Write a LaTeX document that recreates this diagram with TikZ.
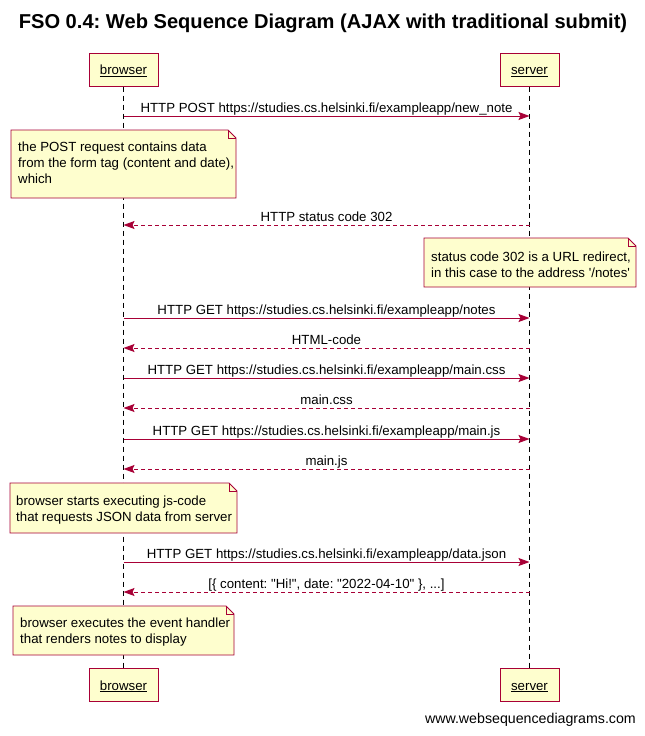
\documentclass[tikz,border=0pt]{standalone}
\usepackage{fontspec}
\setmainfont{Liberation Sans}
\frenchspacing
\usetikzlibrary{arrows.meta}
\definecolor{umlred}{HTML}{A80036}
\definecolor{umlfill}{HTML}{FEFECE}
\tikzset{
  actorbox/.style={draw=umlred, fill=umlfill, line width=1pt, minimum height=33pt,
    inner sep=0pt, text height=10pt, text depth=0pt, font=\fontsize{13.25}{16}\selectfont},
  lifeline/.style={draw=black, dash pattern=on 5pt off 4pt, line width=0.9pt},
  msg/.style={draw=umlred, line width=0.9pt, -{Stealth[length=11pt,width=8pt,inset=2pt]}},
  reply/.style={msg, dash pattern=on 4pt off 3pt},
  msglabel/.style={anchor=base, inner sep=0pt, font=\fontsize{13.25}{16}\selectfont},
  notebody/.style={draw=umlred, fill=umlfill, line width=0.9pt},
  notetext/.style={anchor=north west, inner sep=0pt, align=left,
    font=\fontsize{13.25}{16}\selectfont},
}
% note with a folded top-right corner: x1, y1, x2, y2
\newcommand\foldnote[4]{%
  \filldraw[notebody] (#1,#2) -- (#3-8,#2) -- (#3,#2+8) -- (#3,#4) -- (#1,#4) -- cycle;
  \draw[notebody, fill=none] (#3-8,#2) -- (#3-8,#2+8) -- (#3,#2+8);}
\begin{document}
\begin{tikzpicture}[x=1pt, y=-1pt]
\useasboundingbox[fill=white] (0,0) rectangle (645,736);

\node[font=\bfseries\fontsize{20.1}{22}\selectfont] (title) at (323,23)
  {FSO 0.4: Web Sequence Diagram (AJAX with traditional submit)};

% participants
\node[actorbox, minimum width=69pt] (browser)  at (123.5,69.5) {\underline{browser}};
\node[actorbox, minimum width=59pt] (server)   at (529.5,69.5) {\underline{server}};
\node[actorbox, minimum width=69pt] (browserB) at (123.5,685) {\underline{browser}};
\node[actorbox, minimum width=59pt] (serverB)  at (529.5,685) {\underline{server}};

\draw[lifeline] (browser.south) -- (browserB.north);
\draw[lifeline] (server.south) -- (serverB.north);

% message end points on the lifelines
\foreach \i/\y in {1/116, 2/225, 3/318, 4/348, 5/378, 6/408, 7/439, 8/469, 9/562, 10/592} {
  \coordinate (b\i) at (123.5,\y);
  \coordinate (s\i) at (529.5,\y);
}

\draw[msg] (b1) -- (s1) node[msglabel, pos=0.5, yshift=4pt]
  {HTTP POST https://studies.cs.helsinki.fi/exampleapp/new\_note};

\foldnote{11}{130}{236}{198}
\node[notetext] (note1) at (18,142) {the POST request contains data\\from the form tag (content and date),\\which};

\draw[reply] (s2) -- (b2) node[msglabel, pos=0.5, yshift=4pt] {HTTP status code 302};

\foldnote{424}{238}{636}{287}
\node[notetext] (note2) at (431,252) {status code 302 is a URL redirect,\\in this case to the address \textquotesingle/notes\textquotesingle};

\draw[msg] (b3) -- (s3) node[msglabel, pos=0.5, yshift=4pt]
  {HTTP GET https://studies.cs.helsinki.fi/exampleapp/notes};
\draw[reply] (s4) -- (b4) node[msglabel, pos=0.5, yshift=4pt] {HTML-code};
\draw[msg] (b5) -- (s5) node[msglabel, pos=0.5, yshift=4pt]
  {HTTP GET https://studies.cs.helsinki.fi/exampleapp/main.css};
\draw[reply] (s6) -- (b6) node[msglabel, pos=0.5, yshift=4pt] {main.css};
\draw[msg] (b7) -- (s7) node[msglabel, pos=0.5, yshift=4pt]
  {HTTP GET https://studies.cs.helsinki.fi/exampleapp/main.js};
\draw[reply] (s8) -- (b8) node[msglabel, pos=0.5, yshift=4pt] {main.js};

\foldnote{10}{483}{237}{533}
\node[notetext] (note3) at (16,496) {browser starts executing js-code\\that requests JSON data from server};

\draw[msg] (b9) -- (s9) node[msglabel, pos=0.5, yshift=4pt]
  {HTTP GET https://studies.cs.helsinki.fi/exampleapp/data.json};
\draw[reply] (s10) -- (b10) node[msglabel, pos=0.5, yshift=4pt]
  {[\{ content: \textquotedbl Hi!\textquotedbl, date: \textquotedbl 2022-04-10\textquotedbl\ \}, ...]};

\foldnote{13}{606}{234}{655}
\node[notetext] (note4) at (20,618) {browser executes the event handler\\that renders notes to display};

\node[anchor=east, inner sep=0pt, font=\fontsize{14.2}{16}\selectfont] (footer) at (636,720)
  {www.websequencediagrams.com};
\end{tikzpicture}
\end{document}
